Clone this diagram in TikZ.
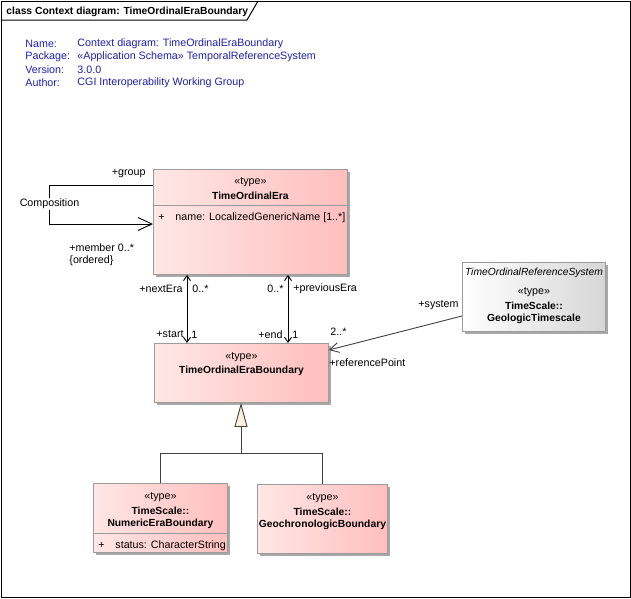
\documentclass[tikz,border=0pt]{standalone}
\usepackage{fontspec}
\setmainfont{Liberation Sans}
\usetikzlibrary{arrows.meta,shadows,positioning}
\definecolor{eraL}{RGB}{255,231,229}
\definecolor{eraR}{RGB}{255,190,190}
\definecolor{sysR}{RGB}{214,214,214}
\definecolor{boxline}{RGB}{155,155,155}
\definecolor{shadowgray}{RGB}{168,168,168}
\definecolor{infoblue}{RGB}{30,30,175}
\definecolor{cream}{RGB}{252,240,222}

\begin{document}
\begin{tikzpicture}[x=1pt,y=-1pt,font=\fontsize{10.7}{13}\selectfont,
                    line width=0.9pt,
                    assoc/.style={{Straight Barb[length=5pt,width=7pt]}-{Straight Barb[length=5pt,width=7pt]}},
                    gen/.style={-{Triangle[length=24pt,width=13pt,fill=cream]}, draw=black!75}]
  \tikzstyle{umlbox}=[draw=boxline, anchor=north west, inner sep=0pt,
                      drop shadow={shadow xshift=3pt,shadow yshift=-3pt,fill=shadowgray,opacity=1}]
  \tikzstyle{typebox}=[umlbox, left color=eraL, right color=eraR]
  \tikzstyle{sysbox}=[umlbox, left color=white, right color=sysR]
  \tikzstyle{lbl}=[inner sep=0pt, yshift=-1.5pt]
  \tikzstyle{bold}=[lbl, font=\fontsize{10.3}{13}\selectfont\bfseries]
  \tikzstyle{info}=[lbl, anchor=west, text=infoblue]

  \useasboundingbox (0,0) rectangle (631,598);
  \draw[line width=1pt] (1,1) rectangle (630,597);

  % frame title
  \node[bold, anchor=west] (title) at (6,10)
       {class Context diagram: TimeOrdinalEraBoundary};
  \draw[line width=1pt] (1,20) -- (247,20) -- (258,1);

  \node[info] (nameK)    at (25,42) {Name:};
  \node[info] (nameV)    at (77,42) {Context diagram: TimeOrdinalEraBoundary};
  \node[info] (packK)    at (25,55) {Package:};
  \node[info] (packV)    at (77,55) {«Application Schema» TemporalReferenceSystem};
  \node[info] (versK)    at (25,68) {Version:};
  \node[info] (versV)    at (77,68) {3.0.0};
  \node[info] (authK)    at (25,81) {Author:};
  \node[info] (authV)    at (77,81) {CGI Interoperability Working Group};

  % classes
  \node[typebox, minimum width=194pt, minimum height=105pt] (toe) at (153,169) {};
  \node[lbl] (toeS) at ([yshift=-12pt]toe.north) {«type»};
  \node[bold] (toeN) at ([yshift=-25pt]toe.north) {TimeOrdinalEra};
  \draw[boxline] ([yshift=-36pt]toe.north west) -- ([yshift=-36pt]toe.north east);
  \node[lbl, anchor=west] (toeP) at ([xshift=5pt,yshift=-47pt]toe.north west) {+};
  \node[lbl, anchor=west] (toeA) at ([xshift=22pt,yshift=-47pt]toe.north west) {name: LocalizedGenericName [1..*]};

  \node[typebox, minimum width=174pt, minimum height=59pt] (teb) at (154,343) {};
  \node[lbl] (tebS) at ([yshift=-13pt]teb.north) {«type»};
  \node[bold] (tebN) at ([yshift=-26pt]teb.north) {TimeOrdinalEraBoundary};

  \node[sysbox, minimum width=143pt, minimum height=69pt] (gts) at (462,262) {};
  \node[lbl, font=\fontsize{10.3}{13}\selectfont\itshape] (gtsI) at ([yshift=-9pt]gts.north) {TimeOrdinalReferenceSystem};
  \node[lbl] (gtsS) at ([yshift=-29pt]gts.north) {«type»};
  \node[bold] (gtsP) at ([yshift=-42pt]gts.north) {TimeScale::};
  \node[bold] (gtsN) at ([yshift=-55pt]gts.north) {GeologicTimescale};

  \node[typebox, minimum width=134pt, minimum height=69pt] (neb) at (93,483) {};
  \node[lbl] (nebS) at ([yshift=-13pt]neb.north) {«type»};
  \node[bold] (nebP) at ([yshift=-26pt]neb.north) {TimeScale::};
  \node[bold] (nebN) at ([yshift=-39pt]neb.north) {NumericEraBoundary};
  \draw[boxline] ([yshift=-50pt]neb.north west) -- ([yshift=-50pt]neb.north east);
  \node[lbl, anchor=west] (nebP2) at ([xshift=5pt,yshift=-61pt]neb.north west) {+};
  \node[lbl, anchor=west] (nebA) at ([xshift=22pt,yshift=-61pt]neb.north west) {status: CharacterString};

  \node[typebox, minimum width=130pt, minimum height=69pt] (gcb) at (257,484) {};
  \node[lbl] (gcbS) at ([yshift=-13pt]gcb.north) {«type»};
  \node[bold] (gcbP) at ([yshift=-26pt]gcb.north) {TimeScale::};
  \node[bold] (gcbN) at ([yshift=-39pt]gcb.north) {GeochronologicBoundary};

  % composition on TimeOrdinalEra
  \coordinate (cTop) at (49,185);
  \coordinate (cBot) at (49,224);
  \draw[-{Straight Barb[length=14pt,width=13pt]}]
       (toe.north west |- cTop) -- (cTop) -- (cBot) -- (toe.north west |- cBot);
  \node[fill=white, inner sep=1pt] (comp) at (49.5,204) {Composition};
  \node[lbl, anchor=east] (group) at (146,172) {+group};
  \node[lbl, anchor=west] (member) at (69,246) {+member 0..*};
  \node[lbl, anchor=west] (ordered) at (69,259) {\{ordered\}};

  % next / previous era
  \coordinate (nx) at (187,0);
  \coordinate (px) at (288,0);
  \draw[assoc] (toe.south -| nx) -- (teb.north -| nx);
  \draw[assoc] (toe.south -| px) -- (teb.north -| px);
  \node[lbl, anchor=east] (nextEra) at (183,287) {+nextEra};
  \node[lbl, anchor=west] (nextM)   at (192,287) {0..*};
  \node[lbl, anchor=east] (start)   at (184,333) {+start};
  \node[lbl, anchor=west] (startM)  at (191,333) {1};
  \node[lbl, anchor=east] (prevM)   at (284,287) {0..*};
  \node[lbl, anchor=west] (prevEra) at (293,287) {+previousEra};
  \node[lbl, anchor=east] (end)     at (283,333) {+end};
  \node[lbl, anchor=west] (endM)    at (292,333) {1};

  % reference system
  \coordinate (sysEnd) at (462,316);
  \coordinate (refEnd) at (0,350);
  \draw[draw=black!75, -{Straight Barb[length=9pt,width=10pt]}] (sysEnd) -- (teb.north east |- refEnd);
  \node[lbl, anchor=east] (system)  at (459,304) {+system};
  \node[lbl, anchor=west] (refM)    at (330,330) {2..*};
  \node[lbl, anchor=west] (refPt)   at (329,361) {+referencePoint};

  % generalization
  \coordinate (junction) at (241,453);
  \draw[draw=black!75] (neb.north) |- (junction) -| (gcb.north);
  \draw[gen] (junction) -- (junction |- teb.south);
\end{tikzpicture}
\end{document}
